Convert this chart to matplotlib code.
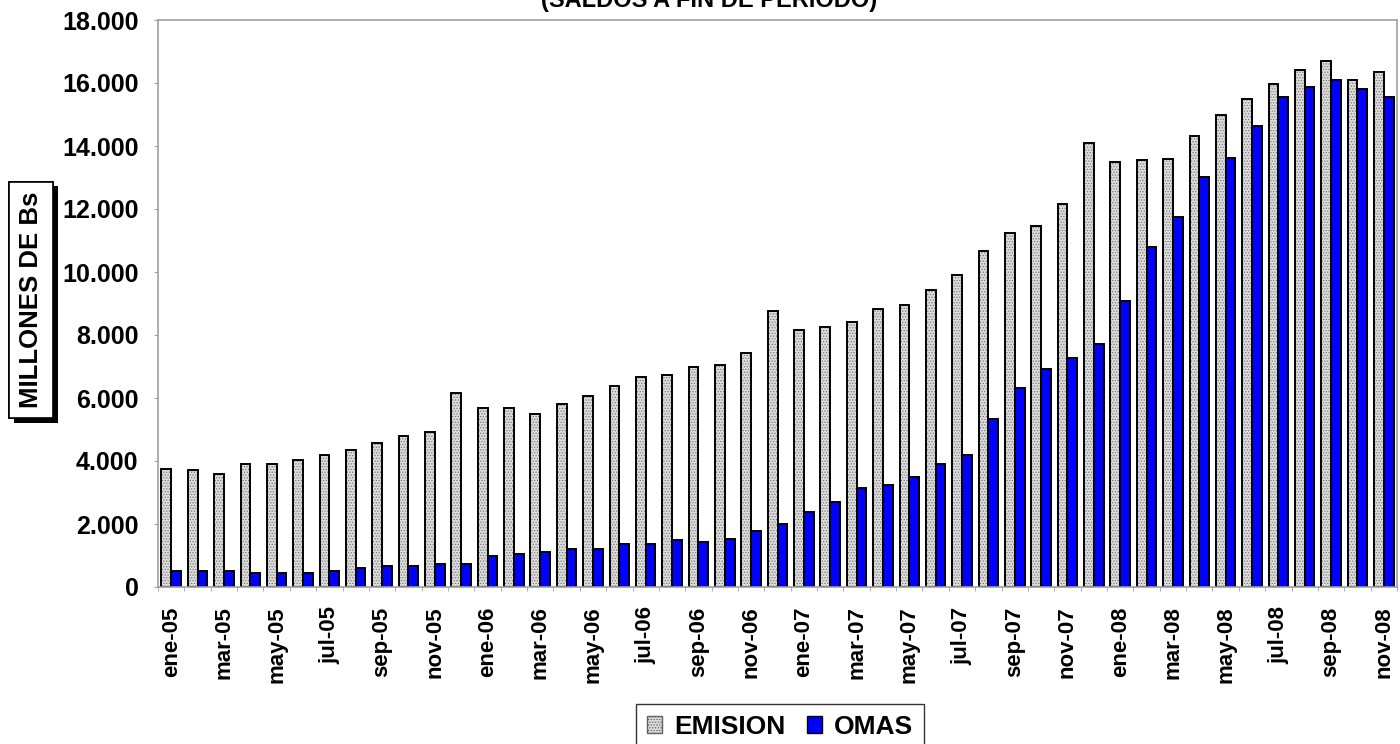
import numpy as np
import matplotlib
matplotlib.use('Agg')
import matplotlib.pyplot as plt
import matplotlib.patches as mpatches
import matplotlib.patheffects as pe
from matplotlib.ticker import FuncFormatter, MultipleLocator

plt.rcParams['font.family'] = ['Liberation Sans', 'DejaVu Sans']
plt.rcParams['font.weight'] = 'bold'
plt.rcParams['hatch.linewidth'] = 0.6

# meses ene-05 .. nov-08
meses = ['ene', 'feb', 'mar', 'abr', 'may', 'jun', 'jul', 'ago', 'sep', 'oct', 'nov', 'dic']
anios = ['05', '06', '07', '08']
periodos = [m + '-' + a for a in anios for m in meses][:47]

# saldos (millones de Bs)
emision = [3750, 3700, 3600, 3900, 3900, 4030, 4180, 4360, 4570, 4790, 4910, 6170,
           5670, 5670, 5500, 5800, 6060, 6390, 6660, 6720, 7000, 7050, 7430, 8750,
           8150, 8240, 8420, 8820, 8960, 9420, 9900, 10680, 11230, 11450, 12160, 14100,
           13480, 13550, 13600, 14330, 14990, 15480, 15980, 16420, 16690, 16090, 16360]
omas = [510, 510, 510, 455, 455, 455, 510, 610, 670, 670, 720, 720,
        995, 1050, 1110, 1220, 1220, 1380, 1380, 1480, 1430, 1530, 1770, 1990,
        2370, 2700, 3140, 3250, 3480, 3905, 4180, 5340, 6330, 6930, 7260, 7700,
        9090, 10800, 11740, 13010, 13610, 14650, 15540, 15880, 16090, 15820, 15540]

x = np.arange(len(periodos))
w = 0.37

fig = plt.figure(figsize=(14, 7.44), dpi=100)
ax = fig.add_axes([158/1400, 1-587/744, (1397-158)/1400, (587-20)/744])

# EMISION: relleno punteado + borde negro
ax.bar(x - w/2, emision, w, color='#dcdcdc', edgecolor='#7a7a7a', hatch='......', linewidth=0)
ax.bar(x - w/2, emision, w, fill=False, edgecolor='black', linewidth=1.4)
# OMAS
ax.bar(x + w/2, omas, w, color='#0000ff', edgecolor='black', linewidth=1.4)

ax.set_xlim(-0.5, len(x) - 0.5)
ax.set_ylim(0, 18000)
ax.yaxis.set_major_locator(MultipleLocator(2000))
ax.yaxis.set_major_formatter(FuncFormatter(lambda v, p: '{:,.0f}'.format(v).replace(',', '.')))

ax.set_xticks(x[::2])
ax.set_xticklabels(periodos[::2], rotation=90, fontsize=16, fontweight='bold')
ax.set_xticks(np.arange(-0.5, len(x), 1), minor=True)
ax.tick_params(axis='x', which='major', length=0, pad=14)
ax.tick_params(axis='x', which='minor', length=3, color='#a0a0a0')
ax.tick_params(axis='y', length=3, color='#a0a0a0', pad=11, labelsize=18)
for lab in ax.get_yticklabels():
	lab.set_fontweight('bold')

for s in ax.spines.values():
	s.set_color('#a0a0a0')
	s.set_linewidth(1.2)

# titulo (cortado arriba, como en el original)
fig.text(709/1400, 1 - 7/744, '(SALDOS A FIN DE PERIODO)', ha='center', va='baseline',
		 fontsize=17, fontweight='bold')

# etiqueta eje y con sombra
t = fig.text(31/1400, 1 - 300/744, 'MILLONES DE Bs', rotation=90, ha='center', va='center',
			 fontsize=18.5, fontweight='bold',
			 bbox=dict(boxstyle='square,pad=0.4', fc='white', ec='black', lw=1.2))
t.get_bbox_patch().set_path_effects([pe.withSimplePatchShadow(offset=(3.5, -3.5), shadow_rgbFace='black', alpha=1),
									 pe.Normal()])

# leyenda
h1 = mpatches.Patch(facecolor='#dcdcdc', edgecolor='#606060', hatch='......', label='EMISION')
h2 = mpatches.Patch(facecolor='#0000ff', edgecolor='black', label='OMAS')
leg = fig.legend(handles=[h1, h2], ncol=2, loc='upper center', bbox_to_anchor=(780/1400, 1 - 704/744),
				 bbox_transform=fig.transFigure, prop={'size': 19, 'weight': 'bold'},
				 frameon=True, fancybox=False, edgecolor='black', handlelength=0.6, handleheight=0.6,
				 handletextpad=0.45, columnspacing=0.8, borderpad=0.4, borderaxespad=0)
leg.get_frame().set_linewidth(1.0)

plt.savefig('out.png', dpi=100)
